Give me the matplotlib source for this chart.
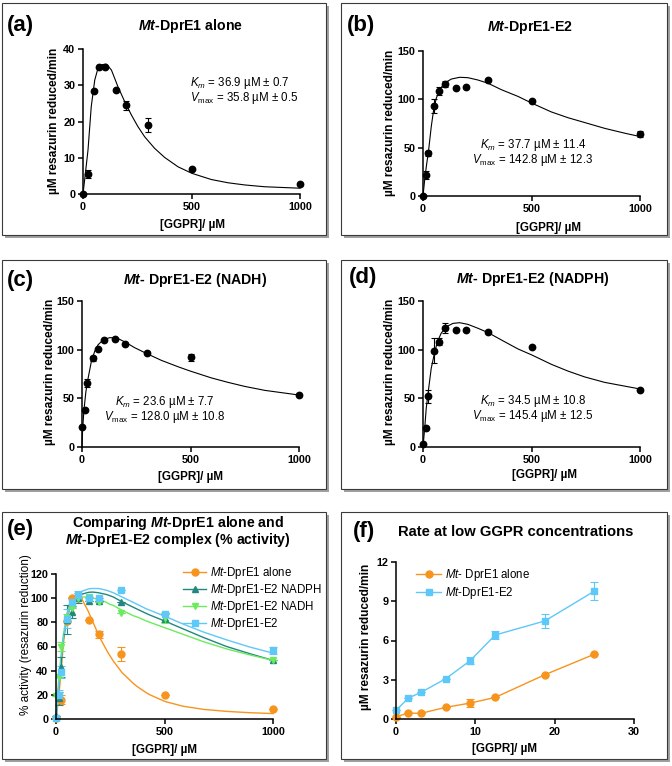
import matplotlib
matplotlib.use("Agg")
import matplotlib.pyplot as plt
from matplotlib.patches import Rectangle

plt.rcParams['font.family'] = 'Liberation Sans'
plt.rcParams['mathtext.fontset'] = 'custom'
plt.rcParams['mathtext.rm'] = 'Liberation Sans'
plt.rcParams['mathtext.it'] = 'Liberation Sans:italic'
plt.rcParams['mathtext.bf'] = 'Liberation Sans:bold'
plt.rcParams['mathtext.bfit'] = 'Liberation Sans:italic:bold'

W, H = 672, 766

# ---- data ----
# (a) Mt-DprE1 alone
a_x = [0, 25, 50, 75, 100, 150, 200, 300, 500, 1000]
a_y = [0, 5.5, 28.4, 35.1, 35.1, 28.7, 24.5, 19.0, 7.0, 2.8]
a_err = [0, 1.0, 0, 0, 0, 0, 1.2, 2.0, 0, 0]
a_fit_x = [0, 11, 23, 38, 54, 69, 88, 108, 131, 161, 192, 223, 253, 284, 330, 376, 438, 502, 591, 668, 745, 837, 1000]
a_fit_y = [0, 5.7, 12.1, 24.1, 31.4, 34.7, 35.7, 35.8, 34.2, 29.6, 25.5, 21.8, 18.6, 15.8, 12.6, 10.1, 7.5, 5.7, 4.0, 3.1, 2.5, 2.0, 1.6]

# x values shared by (b)-(e)
conc = [0, 12.5, 25, 50, 75, 100, 150, 200, 300, 500, 1000]

# (b) Mt-DprE1-E2
b_y = [0.5, 22, 44, 93, 109, 116, 112, 113, 120, 98, 64]
b_err = [0, 4, 3, 7, 4, 3, 0, 0, 0, 0, 3]
b_fit_x = [0, 7.7, 15, 26, 38, 49, 61, 77, 100, 131, 169, 207, 253, 300, 361, 438, 502, 591, 668, 745, 837, 929, 1000]
b_fit_y = [0, 16.6, 30, 47.6, 71.7, 89, 101, 110, 117, 121, 122.8, 122.4, 120, 116.6, 110, 103, 96, 87, 81, 76, 70, 65, 61.5]

# (c) Mt-DprE1-E2 (NADH)
c_y = [21, 38, 66, 91, 101, 110, 111, 106, 97, 92, 53]
c_err = [0, 0, 4, 3, 0, 0, 0, 0, 0, 4, 0]
c_fit_x = [0, 3, 9, 18, 28, 43, 58, 74, 97, 127, 158, 197, 243, 298, 366, 442, 499, 596, 673, 749, 842, 1000]
c_fit_y = [0, 19, 38, 57, 70.5, 87.7, 98, 105, 110, 112.3, 112.3, 108, 102, 96, 89, 82.5, 78, 71, 66.4, 62.3, 58.2, 53.4]

# (d) Mt-DprE1-E2 (NADPH)
d_y = [3, 20, 52, 99, 108, 122, 120, 120, 118, 103, 59]
d_err = [0, 0, 6.5, 13, 3.5, 5, 0, 0, 0, 0, 0]
d_fit_x = [0, 7.7, 15, 26, 38, 51, 66, 84, 108, 138, 169, 207, 253, 300, 361, 438, 502, 591, 668, 745, 837, 1000]
d_fit_y = [0, 19, 40, 60, 81, 94.5, 108, 117, 123.6, 127, 127.7, 126, 122, 117.5, 110, 100.7, 94.5, 85, 78, 72, 66.4, 59.6]

# (e) % activity
e_alone_y = [0.5, 16, 81, 100, 100, 82, 70, 54, 20, 8]
e_alone_err = [0, 3.5, 0, 0, 0, 0, 3, 6, 0, 0]
e_nadph_y = [2.5, 17, 43, 82, 88.5, 100, 98, 98, 96.5, 84, 48.5]
e_nadph_err = [0, 5, 8, 12, 5, 4, 0, 0, 0, 4, 0]
e_nadh_y = [19, 34.5, 60, 83.6, 92, 100, 101, 96.5, 88, 83.6, 48.5]
e_nadh_err = [0, 0, 4, 3, 0, 0, 0, 0, 0, 4, 0]
e_e2_y = [0.5, 20, 39, 83, 97, 103, 100, 100.5, 107, 87, 57]
e_e2_err = [0, 4, 5, 8, 4, 3, 0, 0, 0, 0, 3]
e_fit_x = [0, 11, 21.5, 34, 49, 64.5, 88, 108, 123, 149, 161, 172, 195, 203, 233, 241, 264, 304, 356, 373, 418, 433, 502, 587, 679, 786, 894, 1000]
e_alone_fit = [0, 16, 35, 62, 86, 96.5, 100.5, 100.5, 98, 89, 84, 79.5, 70, 67, 57, 54.5, 48, 38.5, 29.5, 27, 21.5, 20, 14.5, 10.5, 8, 6.3, 5.2, 4.5]
e_nadph_fit = [0, 24, 44, 66, 82, 92, 99, 102, 103.5, 104.8, 105, 105, 104.5, 104.2, 103, 102.5, 101, 97, 92.5, 91, 87.2, 86, 81, 74.5, 67.5, 60, 54, 48.5]
e_nadh_fit = [0, 30, 50, 70, 84, 92, 98, 100.5, 101, 100.8, 100.5, 100, 99, 98.5, 96.5, 95.5, 94, 90, 85.5, 84.5, 81, 80, 75.5, 70, 64, 58, 53, 48.5]
e_e2_fit = [0, 25, 45, 67, 83, 94, 101, 104.5, 106, 107.6, 108, 108, 108, 107.8, 106.5, 106, 104.5, 101, 96.5, 95, 91, 90, 85, 78.5, 72, 65.5, 59.5, 54.5]

# (f) low GGPR
f_x = [0, 1.5625, 3.125, 6.25, 9.375, 12.5, 18.75, 25]
f_alone_y = [0.18, 0.45, 0.43, 0.89, 1.22, 1.65, 3.38, 4.95]
f_alone_err = [0, 0, 0, 0, 0.3, 0, 0, 0]
f_e2_y = [0.66, 1.6, 2.03, 3.07, 4.47, 6.42, 7.49, 9.77]
f_e2_err = [0, 0, 0, 0, 0.3, 0.3, 0.5, 0.7]

ORANGE = '#F7941D'
TEAL = '#23877F'
GREEN = '#6CEB5E'
BLUE = '#5EC8F8'

TICK_FS = 7.8
YLAB_FS = 8.6
XLAB_FS = 8.4
TITLE_FS = 10.2
PANEL_FS = 16


def fx(x):
    return x / W


def fy(y):
    return 1 - y / H


def ax_at(fig, x0, y0, x1, y1):
    return fig.add_axes([x0 / W, 1 - y1 / H, (x1 - x0) / W, (y1 - y0) / H])


def panel_box(fig, x0, y0, x1, y1):
    fig.add_artist(Rectangle((fx(x0 + 3), fy(y1 + 3)), (x1 - x0) / W, (y1 - y0) / H,
                             transform=fig.transFigure, facecolor='#a0a0a0', edgecolor='none', zorder=-2))
    fig.add_artist(Rectangle((fx(x0), fy(y1)), (x1 - x0) / W, (y1 - y0) / H,
                             transform=fig.transFigure, facecolor='white', edgecolor='#3a3a3a',
                             linewidth=0.8, zorder=-1))


def style_axes(ax, xticks, yticks):
    for s in ['top', 'right']:
        ax.spines[s].set_visible(False)
    for s in ['left', 'bottom']:
        ax.spines[s].set_linewidth(1.1)
    ax.set_xticks(xticks)
    ax.set_yticks(yticks)
    ax.set_xlim(xticks[0], xticks[-1])
    ax.set_ylim(yticks[0], yticks[-1])
    ax.tick_params(direction='out', length=3.5, width=1.1, labelsize=TICK_FS, pad=2)
    for lbl in ax.get_xticklabels() + ax.get_yticklabels():
        lbl.set_fontweight('bold')
    ax.patch.set_alpha(0)


def errplot(ax, x, y, err, **kw):
    cont = ax.errorbar(x, y, yerr=err, elinewidth=0.8, capthick=0.8, **kw)
    for art in [cont[0]] + list(cont[1]) + list(cont[2]):
        art.set_clip_on(False)
    return cont


fig = plt.figure(figsize=(W / 100, H / 100), dpi=100)

rows = [(3, 235), (260, 489), (512, 759)]
cols = [(2, 326), (341, 667)]
for (y0, y1) in rows:
    for (x0, x1) in cols:
        panel_box(fig, x0, y0, x1, y1)

ylab = 'µM resazurin reduced/min'
xlab = '[GGPR]/ µM'

# ---- panels (a)-(d) ----
specs = [
    ('(a)', r'$\mathbfit{Mt}$-DprE1 alone', (83, 49, 300, 194), [0, 10, 20, 30, 40],
     a_x, a_y, a_err, a_fit_x, a_fit_y,
     [r'$K_m$ = 36.9 µM ± 0.7', r'$V_{\rm max}$ = 35.8 µM ± 0.5'], (190, 83, 'left'),
     (7, 26), (190, 26), (54, 121), (192, 225)),
    ('(b)', r'$\mathbfit{Mt}$-DprE1-E2', (423, 51, 640, 196), [0, 50, 100, 150],
     conc, b_y, b_err, b_fit_x, b_fit_y,
     [r'$K_m$ = 37.7 µM ± 11.4', r'$V_{\rm max}$ = 142.8 µM ± 12.3'], (533, 145, 'center'),
     (347, 25), (530, 27), (390, 123), (549, 228)),
    ('(c)', r'$\mathbfit{Mt}$- DprE1-E2 (NADH)', (82, 301, 299, 447), [0, 50, 100, 150],
     conc, c_y, c_err, c_fit_x, c_fit_y,
     [r'$K_m$ = 23.6 µM ± 7.7', r'$V_{\rm max}$ = 128.0 µM ± 10.8'], (165, 402, 'center'),
     (7, 280), (195, 280), (50, 372), (190, 477)),
    ('(d)', r'$\mathbfit{Mt}$- DprE1-E2 (NADPH)', (423, 301, 640, 447), [0, 50, 100, 150],
     conc, d_y, d_err, d_fit_x, d_fit_y,
     [r'$K_m$ = 34.5 µM ± 10.8', r'$V_{\rm max}$ = 145.4 µM ± 12.5'], (533, 401, 'center'),
     (349, 278), (533, 279), (390, 372), (544, 475)),
]

for (lab, title, box, yt, x, y, err, fitx, fity, kmtxt, kmpos,
     labpos, titpos, ylpos, xlpos) in specs:
    ax = ax_at(fig, *box)
    ax.plot(fitx, fity, color='black', linewidth=0.8, clip_on=False)
    errplot(ax, x, y, err, fmt='o', color='black', markersize=4.6, capsize=2.5)
    style_axes(ax, [0, 500, 1000], yt)
    fig.text(fx(labpos[0]), fy(labpos[1]), lab, fontsize=PANEL_FS, fontweight='bold', va='center', ha='left')
    fig.text(fx(titpos[0]), fy(titpos[1]), title, fontsize=TITLE_FS, fontweight='bold', va='center', ha='center')
    fig.text(fx(ylpos[0]), fy(ylpos[1]), ylab, fontsize=YLAB_FS, fontweight='bold', va='center', ha='center',
             rotation=90)
    fig.text(fx(xlpos[0]), fy(xlpos[1]), xlab, fontsize=XLAB_FS, fontweight='bold', va='center', ha='center')
    kx, ky, kha = kmpos
    fig.text(fx(kx), fy(ky), kmtxt[0], fontsize=8.3, va='center', ha=kha)
    fig.text(fx(kx), fy(ky + 15), kmtxt[1], fontsize=8.3, va='center', ha=kha)

# ---- panel (e) ----
ax = ax_at(fig, 56, 574, 273, 719)
ax.plot(e_fit_x, e_alone_fit, color=ORANGE, linewidth=1.0, clip_on=False)
ax.plot(e_fit_x, e_nadph_fit, color=TEAL, linewidth=1.0, clip_on=False)
ax.plot(e_fit_x, e_nadh_fit, color=GREEN, linewidth=1.0, clip_on=False)
ax.plot(e_fit_x, e_e2_fit, color=BLUE, linewidth=1.0, clip_on=False)
errplot(ax, a_x, e_alone_y, e_alone_err, fmt='o', color=ORANGE, markersize=5, capsize=3)
errplot(ax, conc, e_nadph_y, e_nadph_err, fmt='^', color=TEAL, markersize=4.5, capsize=3)
errplot(ax, conc, e_nadh_y, e_nadh_err, fmt='v', color=GREEN, markersize=4.5, capsize=3)
errplot(ax, conc, e_e2_y, e_e2_err, fmt='s', color=BLUE, markersize=5, capsize=3)
style_axes(ax, [0, 500, 1000], [0, 20, 40, 60, 80, 100, 120])
hs = [plt.Line2D([], [], color=c, marker=m, markersize=ms, linewidth=1.0)
      for c, m, ms in [(ORANGE, 'o', 5), (TEAL, '^', 4.5), (GREEN, 'v', 4.5), (BLUE, 's', 5)]]
fig.legend(hs, [r'$\mathit{Mt}$-DprE1 alone', r'$\mathit{Mt}$-DprE1-E2 NADPH',
                r'$\mathit{Mt}$-DprE1-E2 NADH', r'$\mathit{Mt}$-DprE1-E2'],
           loc='upper left', bbox_to_anchor=(fx(183), fy(565)), frameon=False, fontsize=8.3,
           handlelength=2.0, handletextpad=0.3, labelspacing=0.08, borderpad=0, borderaxespad=0)
fig.text(fx(7), fy(530), '(e)', fontsize=PANEL_FS, fontweight='bold', va='center', ha='left')
fig.text(fx(178), fy(523), r'Comparing $\mathbfit{Mt}$-DprE1 alone and', fontsize=TITLE_FS,
         fontweight='bold', va='center', ha='center')
fig.text(fx(178), fy(540), r'$\mathbfit{Mt}$-DprE1-E2 complex (% activity)', fontsize=TITLE_FS,
         fontweight='bold', va='center', ha='center')
fig.text(fx(26), fy(635), '% activity (resazurin reduction)', fontsize=8.5, va='center', ha='center',
         rotation=90)
fig.text(fx(165), fy(750), xlab, fontsize=XLAB_FS, fontweight='bold', va='center', ha='center')

# ---- panel (f) ----
ax = ax_at(fig, 396, 562, 634, 719)
errplot(ax, f_x, f_alone_y, f_alone_err, fmt='-o', color=ORANGE, markersize=5, capsize=3, linewidth=1.0)
errplot(ax, f_x, f_e2_y, f_e2_err, fmt='-s', color=BLUE, markersize=5, capsize=3, linewidth=1.0)
style_axes(ax, [0, 10, 20, 30], [0, 3, 6, 9, 12])
hs = [plt.Line2D([], [], color=c, marker=m, markersize=5, linewidth=1.0)
      for c, m in [(ORANGE, 'o'), (BLUE, 's')]]
fig.legend(hs, [r'$\mathit{Mt}$- DprE1 alone', r'$\mathit{Mt}$-DprE1-E2'],
           loc='upper left', bbox_to_anchor=(fx(416), fy(567)), frameon=False, fontsize=8.3,
           handlelength=2.2, handletextpad=0.3, labelspacing=0.2, borderpad=0, borderaxespad=0)
fig.text(fx(353), fy(532), '(f)', fontsize=PANEL_FS, fontweight='bold', va='center', ha='left')
fig.text(fx(516), fy(532), 'Rate at low GGPR concentrations', fontsize=10.6, fontweight='bold',
         va='center', ha='center')
fig.text(fx(366), fy(637), ylab, fontsize=YLAB_FS, fontweight='bold', va='center', ha='center', rotation=90)
fig.text(fx(505), fy(749), xlab, fontsize=XLAB_FS, fontweight='bold', va='center', ha='center')

fig.savefig('out.png', dpi=100)
